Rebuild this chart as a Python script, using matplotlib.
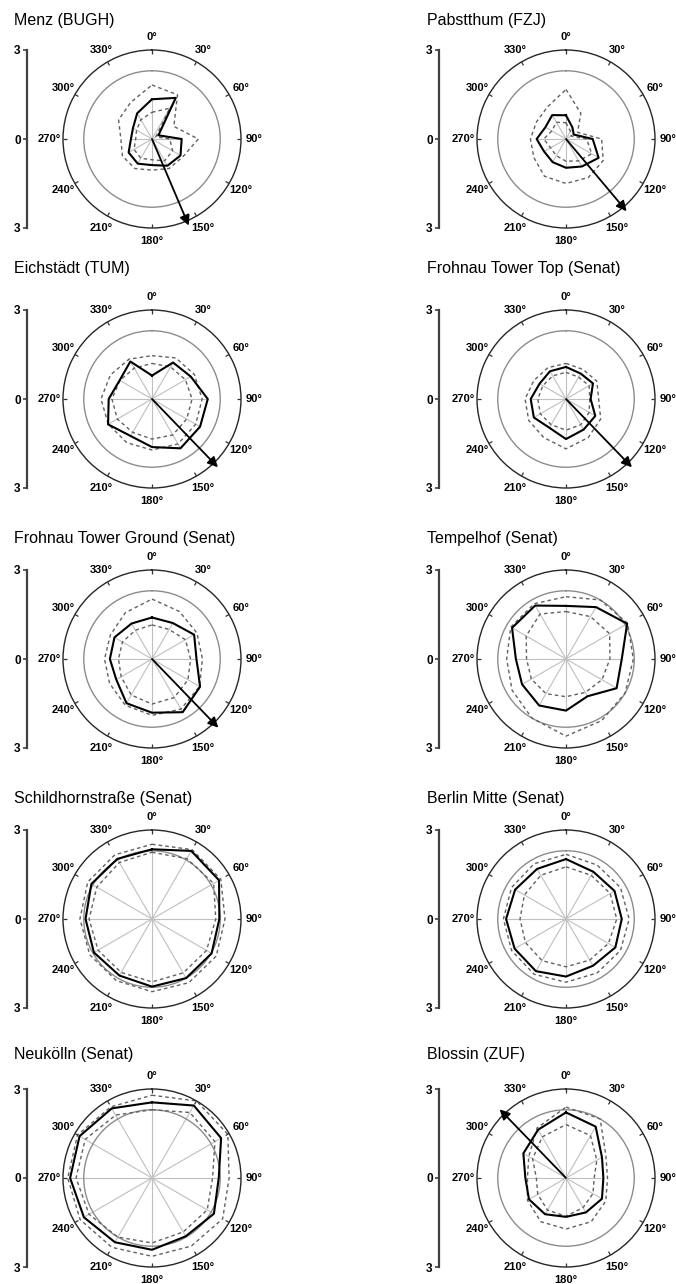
import numpy as np
import matplotlib.pyplot as plt

plt.rcParams['font.family'] = ['Liberation Sans', 'DejaVu Sans']

# wind direction sectors (deg, clockwise from north)
directions = np.arange(0, 360, 30)

stations = ["Menz (BUGH)", "Pabstthum (FZJ)",
            "Eichstädt (TUM)", "Frohnau Tower Top (Senat)",
            "Frohnau Tower Ground (Senat)", "Tempelhof (Senat)",
            "Schildhornstraße (Senat)", "Berlin Mitte (Senat)",
            "Neukölln (Senat)", "Blossin (ZUF)"]

# solid line
mean_r = [
    [1.34, 1.60, 0.25, 1.00, 1.11, 1.04, 0.88, 0.96, 0.91, 0.71, 0.74, 1.00],
    [0.80, 0.44, 0.30, 0.90, 1.27, 1.07, 0.97, 0.90, 0.85, 0.99, 0.80, 0.93],
    [0.79, 1.42, 1.51, 1.88, 1.87, 1.92, 1.62, 1.44, 1.71, 1.46, 1.26, 1.46],
    [1.08, 0.99, 1.05, 0.83, 1.14, 1.19, 1.35, 1.12, 1.25, 1.19, 1.03, 1.08],
    [1.40, 1.40, 1.64, 1.50, 1.87, 2.07, 1.81, 1.72, 1.39, 1.42, 1.46, 1.38],
    [1.79, 2.02, 2.38, 1.88, 1.97, 1.45, 1.74, 1.81, 1.71, 1.69, 2.10, 2.08],
    [2.35, 2.65, 2.61, 2.27, 2.32, 2.30, 2.28, 2.20, 2.26, 2.24, 2.36, 2.34],
    [2.02, 1.84, 1.89, 1.88, 1.92, 1.82, 1.94, 2.03, 2.00, 2.02, 1.98, 1.95],
    [2.55, 2.82, 2.69, 2.25, 2.41, 2.27, 2.42, 2.50, 2.65, 2.76, 2.82, 2.71],
    [2.21, 2.00, 1.40, 1.26, 1.40, 1.34, 1.31, 1.41, 1.44, 1.37, 1.66, 1.88],
]
# dashed lines
upper_r = [
    [1.82, 1.72, 0.85, 1.56, 1.20, 1.15, 1.05, 1.15, 1.15, 1.05, 1.30, 1.43],
    [1.67, 1.00, 0.45, 1.20, 1.45, 1.50, 1.50, 1.45, 1.25, 1.20, 1.15, 1.25],
    [1.46, 1.60, 1.65, 1.69, 1.70, 1.75, 1.72, 1.70, 1.70, 1.72, 1.62, 1.55],
    [1.20, 1.15, 1.20, 1.10, 1.35, 1.50, 1.68, 1.50, 1.45, 1.38, 1.25, 1.22],
    [2.02, 1.85, 1.75, 1.70, 1.85, 1.95, 1.90, 1.80, 1.65, 1.60, 1.62, 1.80],
    [2.10, 2.30, 2.40, 2.27, 2.30, 2.40, 2.60, 2.30, 2.10, 2.00, 2.15, 2.15],
    [2.52, 2.70, 2.68, 2.46, 2.50, 2.48, 2.45, 2.40, 2.42, 2.43, 2.50, 2.50],
    [2.18, 2.10, 2.12, 2.13, 2.12, 2.10, 2.13, 2.15, 2.12, 2.11, 2.12, 2.15],
    [2.79, 3.00, 2.95, 2.60, 2.75, 2.65, 2.64, 2.70, 2.80, 2.84, 2.90, 2.77],
    [2.39, 2.30, 1.55, 1.40, 1.55, 1.70, 1.72, 1.70, 1.50, 1.30, 1.45, 1.95],
]
lower_r = [
    [0.90, 1.20, 0.15, 0.60, 0.80, 0.85, 0.70, 0.75, 0.70, 0.55, 0.60, 0.75],
    [0.55, 0.30, 0.20, 0.70, 1.00, 0.85, 0.75, 0.65, 0.60, 0.75, 0.55, 0.65],
    [1.20, 1.25, 1.30, 1.35, 1.35, 1.40, 1.35, 1.30, 1.35, 1.35, 1.25, 1.20],
    [0.90, 0.85, 0.90, 0.80, 0.90, 1.00, 1.05, 1.00, 1.00, 0.95, 0.90, 0.90],
    [1.15, 1.15, 1.30, 1.30, 1.40, 1.50, 1.52, 1.40, 1.20, 1.13, 1.15, 1.12],
    [1.60, 1.65, 1.70, 1.48, 1.40, 1.30, 1.27, 1.35, 1.35, 1.33, 1.55, 1.75],
    [2.25, 2.35, 2.40, 2.15, 2.12, 2.10, 2.12, 2.08, 2.10, 2.12, 2.15, 2.20],
    [1.76, 1.70, 1.72, 1.71, 1.65, 1.60, 1.61, 1.62, 1.58, 1.55, 1.62, 1.70],
    [2.30, 2.55, 2.45, 2.04, 2.15, 2.10, 2.19, 2.30, 2.45, 2.56, 2.60, 2.45],
    [1.80, 1.65, 1.20, 0.95, 1.05, 1.15, 1.29, 1.25, 1.10, 1.00, 1.30, 1.60],
]
# arrows (direction deg, length); None = no arrow
arrow_dir = [157, 140, 136, 136, 136, None, None, None, None, 316]
arrow_len = [3.17, 3.18, 3.2, 3.2, 3.22, None, None, None, None, 3.22]

inner_circle = 2.3
rmax = 3

W, H = 676, 1284
R = 89
col_cx = [152, 566]
bar_x = [27, 439]
title_x = [14, 427]
row_cy = [139, 399, 659, 919, 1178]
title_y = [20, 269, 538, 798, 1055]

fig = plt.figure(figsize=(W / 100, H / 100), dpi=100)

def closed(v):
    return np.append(v, v[0])

th = np.deg2rad(closed(directions))
dash = (0, (2.6, 2.2))

for i, name in enumerate(stations):
    row, col = divmod(i, 2)
    cx, cy = col_cx[col], row_cy[row]

    ax = fig.add_axes([(cx - R) / W, 1 - (cy + R) / H, 2 * R / W, 2 * R / H],
                      projection='polar')
    ax.set_theta_zero_location('N')
    ax.set_theta_direction(-1)

    ax.vlines(np.deg2rad(directions), 0, mean_r[i], color='0.75', lw=0.8, zorder=1)
    ax.plot(th, closed(upper_r[i]), ls=dash, color='0.38', lw=1.0, zorder=2)
    ax.plot(th, closed(lower_r[i]), ls=dash, color='0.38', lw=1.0, zorder=2)
    ax.plot(th, closed(mean_r[i]), color='k', lw=1.5, zorder=3)

    # small inward ticks on the rim
    ax.vlines(np.deg2rad(directions), rmax * 0.955, rmax, color='0.2', lw=0.9, zorder=4)

    ax.set_rlim(0, rmax)
    ax.set_yticks([inner_circle])
    ax.set_yticklabels([])
    ax.yaxis.grid(True, color='0.55', lw=1.0)
    ax.set_xticks(np.deg2rad(directions))
    ax.set_xticklabels([])
    ax.xaxis.grid(False)
    ax.spines['polar'].set_linewidth(1.0)
    ax.spines['polar'].set_color('0.15')

    for d in directions:
        ax.text(np.deg2rad(d), 3.45, '%d°' % d, ha='center', va='center',
                fontsize=8, fontweight='bold', clip_on=False)

    if arrow_dir[i] is not None:
        ax.annotate('', xy=(np.deg2rad(arrow_dir[i]), arrow_len[i]), xytext=(0, 0),
                    arrowprops=dict(arrowstyle='-|>', color='k', lw=1.3,
                                    mutation_scale=15, shrinkA=0, shrinkB=0),
                    annotation_clip=False, zorder=5)

    # radial scale bar
    bax = fig.add_axes([bar_x[col] / W, 1 - (cy + R) / H, 0.0001, 2 * R / H])
    bax.set_ylim(-rmax, rmax)
    bax.patch.set_visible(False)
    for s in ['top', 'right', 'bottom']:
        bax.spines[s].set_visible(False)
    bax.spines['left'].set_linewidth(1.6)
    bax.spines['left'].set_color('0.25')
    bax.set_xticks([])
    bax.set_yticks([-rmax, 0, rmax])
    bax.set_yticklabels(['3', '0', '3'], fontsize=8.5, fontweight='bold')
    bax.tick_params(axis='y', length=3, width=1.2, pad=1.5, color='0.25')

    fig.text(title_x[col] / W, 1 - title_y[row] / H, name, fontsize=11.5,
             ha='left', va='center')

fig.savefig('out.png', dpi=100)
